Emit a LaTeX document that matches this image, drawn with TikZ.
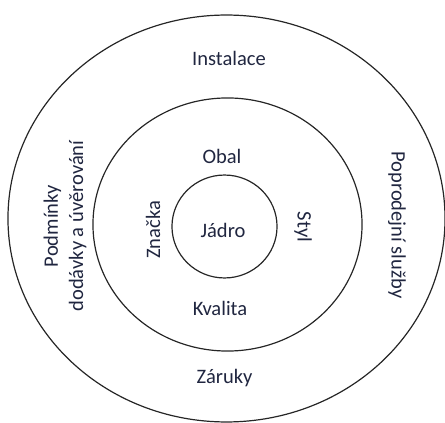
\documentclass[tikz,border=0pt]{standalone}
\usepackage{fontspec}
\setmainfont{Carlito}
\usepackage{tikz}

\definecolor{inkblue}{RGB}{32,38,64}

\tikzset{
  ring/.style={draw=black!85, line width=0.9pt},
  lbl/.style={text=inkblue, font=\fontsize{15.4pt}{18.8pt}\selectfont, inner sep=0pt}
}

\begin{document}
\begin{tikzpicture}[x=0.75pt,y=-0.75pt]
                \useasboundingbox (0,0) rectangle (445,423);
                % rings
                \draw[ring] (226.5,218.5) ellipse [x radius=163.9pt, y radius=152.6pt];
                \draw[ring] (227.5,224.5) ellipse [x radius=100.9pt, y radius=94.9pt];
                \draw[ring] (224.5,226.5) ellipse [x radius=39.4pt, y radius=38.6pt];
                % labels
                \node[lbl] (jadro) at (223,230) {Jádro};
                \node[lbl] (obal) at (222,156) {Obal};
                \node[lbl] (kvalita) at (220,308) {Kvalita};
                \node[lbl, rotate=90] (znacka) at (153,230) {Značka};
                \node[lbl, rotate=-90] (styl) at (303,227) {Styl};
                \node[lbl] (instalace) at (229,58) {Instalace};
                \node[lbl] (zaruky) at (224.5,378) {Záruky};
                \node[lbl, rotate=90, align=center] (podminky) at (65,226) {Podmínky\\dodávky a úvěrování};
                \node[lbl, rotate=-90] (sluzby) at (397,225) {Poprodejní služby};
            \end{tikzpicture}
\end{document}
